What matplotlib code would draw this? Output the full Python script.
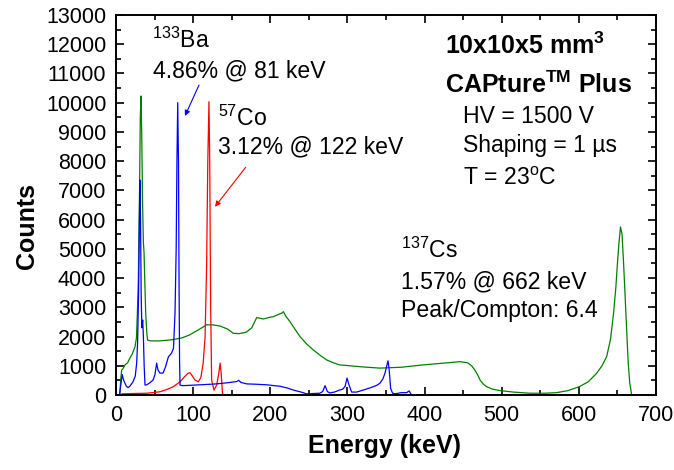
import matplotlib
matplotlib.use("Agg")
import matplotlib.pyplot as plt
from matplotlib.ticker import MultipleLocator

plt.rcParams['font.family'] = ['Liberation Sans', 'DejaVu Sans']
plt.rcParams['mathtext.fontset'] = 'custom'
plt.rcParams['mathtext.rm'] = 'Liberation Sans'
plt.rcParams['mathtext.it'] = 'Liberation Sans:italic'
plt.rcParams['mathtext.bf'] = 'Liberation Sans:bold'

# 137Cs spectrum (energy in keV, counts)
cs_energy = [0, 5, 6, 7.3, 9, 11.7, 15, 18, 21, 24.6, 26.5, 27.7, 29, 30.5, 31.5, 32.4,
             33.3, 34.5, 35.5, 36.3, 37.2, 38.5, 40, 41, 45, 55, 65, 75, 85, 95, 105,
             117.5, 125, 135, 145, 152, 160, 169, 176, 182.4, 191, 198, 204, 210, 214.8,
             217, 220, 225.6, 232, 238.5, 247, 255.8, 265, 273, 282, 290, 303, 320, 342,
             370, 398, 420, 446, 456, 461, 465, 469, 472, 476, 480, 488, 498, 515, 537,
             555, 571, 586, 601, 612, 623, 630, 636, 641, 645, 648, 650, 652, 654, 656,
             658, 660, 662, 664, 666, 668.5, 672, 700]
cs_counts = [0, 0, 500, 850, 900, 1030, 1100, 1260, 1400, 1650, 1950, 2800, 4000, 7000, 9500, 10230,
             9000, 6500, 5200, 4900, 4000, 2800, 2100, 1880, 1850, 1850, 1870, 1900, 1950, 2050, 2200,
             2400, 2400, 2360, 2250, 2110, 2100, 2150, 2300, 2650, 2600, 2650, 2680, 2750, 2800,
             2850, 2700, 2510, 2250, 2000, 1750, 1540, 1350, 1200, 1100, 1030, 1000, 960, 920,
             950, 1030, 1080, 1140, 1100, 1000, 860, 680, 510, 380, 290, 200, 150, 100, 60,
             60, 80, 150, 290, 450, 740, 1000, 1310, 1900, 2800, 3700, 4500, 5200, 5750, 5500,
             4500, 3360, 2200, 1090, 400, 0, 0, 0]

# 133Ba spectrum
ba_energy = [0, 4.5, 6, 8, 10, 13, 15.6, 18, 22, 25, 26.8, 28, 29.3, 30.3, 31.1, 31.8, 32.6,
             33.5, 34.6, 35.5, 36.5, 37.6, 40, 44, 48, 50.5, 52.7, 54.5, 57, 61, 64, 68, 72,
             74.5, 76.5, 78, 79, 80, 81, 81.7, 82.4, 83, 86, 95, 110, 130, 145, 156.4, 159,
             162, 169.4, 180, 195, 205, 212.6, 222, 229.8, 240, 247, 255, 264, 268, 271, 274,
             277, 283, 290, 294, 297, 299.5, 302, 305.5, 312, 320.6, 330, 338, 342, 346, 348.7,
             351, 352.6, 354, 356, 358.5, 361.7, 370, 376.8, 380, 383, 700]
ba_counts = [0, 0, 300, 700, 500, 320, 250, 300, 450, 650, 1100, 1800, 3500, 6000, 7355, 6000, 3500,
             2300, 2565, 2000, 1000, 340, 350, 420, 510, 700, 1090, 850, 750, 750, 950, 1310, 1430,
             1600, 2800, 5000, 8000, 10000, 8000, 4000, 1200, 340, 320, 330, 350, 380, 420, 460, 500,
             430, 380, 370, 350, 320, 300, 240, 170, 100, 40, 50, 60, 120, 320, 120,
             70, 100, 170, 200, 300, 580, 350, 100, 100, 170, 250, 330, 400, 550, 750,
             1000, 1170, 900, 230, 60, 40, 80, 80, 140, 0, 0]

# 57Co spectrum
co_energy = [0, 5, 8, 20, 40, 57, 65, 74, 83, 88, 93, 96, 99, 102.5, 106.7, 110, 113, 115.5,
             117.5, 119, 120.5, 121.5, 122.7, 124, 127, 130.5, 133, 135, 136.5, 138, 140, 700]
co_counts = [0, 0, 40, 50, 60, 110, 180, 280, 450, 600, 740, 760, 650, 510, 450, 600, 1090, 2000,
             4500, 8000, 10035, 8000, 3000, 510, 170, 340, 700, 1090, 700, 50, 0, 0]

fig = plt.figure(figsize=(6.74, 4.70), dpi=100)
ax = fig.add_axes([116 / 674, 75 / 470, 540 / 674, 380 / 470])

ax.plot(cs_energy, cs_counts, color='#008000', lw=0.9)
ax.plot(co_energy, co_counts, color='#ff0000', lw=0.9)
ax.plot(ba_energy, ba_counts, color='#0000ff', lw=0.9)

ax.set_xlim(0, 700)
ax.set_ylim(0, 13000)
ax.xaxis.set_major_locator(MultipleLocator(100))
ax.xaxis.set_minor_locator(MultipleLocator(50))
ax.yaxis.set_major_locator(MultipleLocator(1000))
ax.yaxis.set_minor_locator(MultipleLocator(500))
ax.tick_params(which='both', direction='in', top=True, right=True, labelsize=15.5, width=1.2)
ax.tick_params(which='major', length=6, pad=7)
ax.tick_params(which='minor', length=3.5)
for sp in ax.spines.values():
    sp.set_linewidth(1.4)

fig.text(385 / 674, 1 - 446 / 470, 'Energy (keV)', ha='center', va='center',
         fontsize=18, fontweight='bold')
fig.text(27 / 674, 1 - 226 / 470, 'Counts', ha='center', va='center', rotation=90,
         fontsize=18, fontweight='bold')

fs = 16.6
fb = 18
tr = ax.transAxes
ax.text(0.0667, 0.913, r'$^{133}$Ba', transform=tr, fontsize=fs, va='baseline')
ax.text(0.0685, 0.837, '4.86% @ 81 keV', transform=tr, fontsize=fs, va='baseline')
ax.text(0.189, 0.708, r'$^{57}$Co', transform=tr, fontsize=fs, va='baseline')
ax.text(0.189, 0.637, '3.12% @ 122 keV', transform=tr, fontsize=fs, va='baseline')

ax.text(0.609, 0.897, r'10x10x5 mm$^\mathbf{3}$', transform=tr, fontsize=fb,
        fontweight='bold', va='baseline')
ax.text(0.609, 0.796, r'CAPture$^\mathbf{TM}$ Plus', transform=tr, fontsize=fb,
        fontweight='bold', va='baseline')
ax.text(0.643, 0.717, 'HV = 1500 V', transform=tr, fontsize=fs, va='baseline')
ax.text(0.643, 0.639, 'Shaping = 1 \u00b5s', transform=tr, fontsize=fs, va='baseline')
ax.text(0.643, 0.553, r'T = 23$^\mathrm{o}$C', transform=tr, fontsize=fs, va='baseline')

ax.text(0.527, 0.3605, r'$^{137}$Cs', transform=tr, fontsize=fs, va='baseline')
ax.text(0.527, 0.281, '1.57% @ 662 keV', transform=tr, fontsize=fs, va='baseline')
ax.text(0.527, 0.204, 'Peak/Compton: 6.4', transform=tr, fontsize=fs, va='baseline')

ax.annotate('', xy=(89.4, 9545), xytext=(107.6, 10605),
            arrowprops=dict(arrowstyle='-|>', color='blue', lw=0.8, mutation_scale=8,
                            shrinkA=0, shrinkB=0))
ax.annotate('', xy=(128.3, 6440), xytext=(168.1, 7790),
            arrowprops=dict(arrowstyle='-|>', color='red', lw=0.8, mutation_scale=8,
                            shrinkA=0, shrinkB=0))

fig.savefig('out.png', dpi=100)
